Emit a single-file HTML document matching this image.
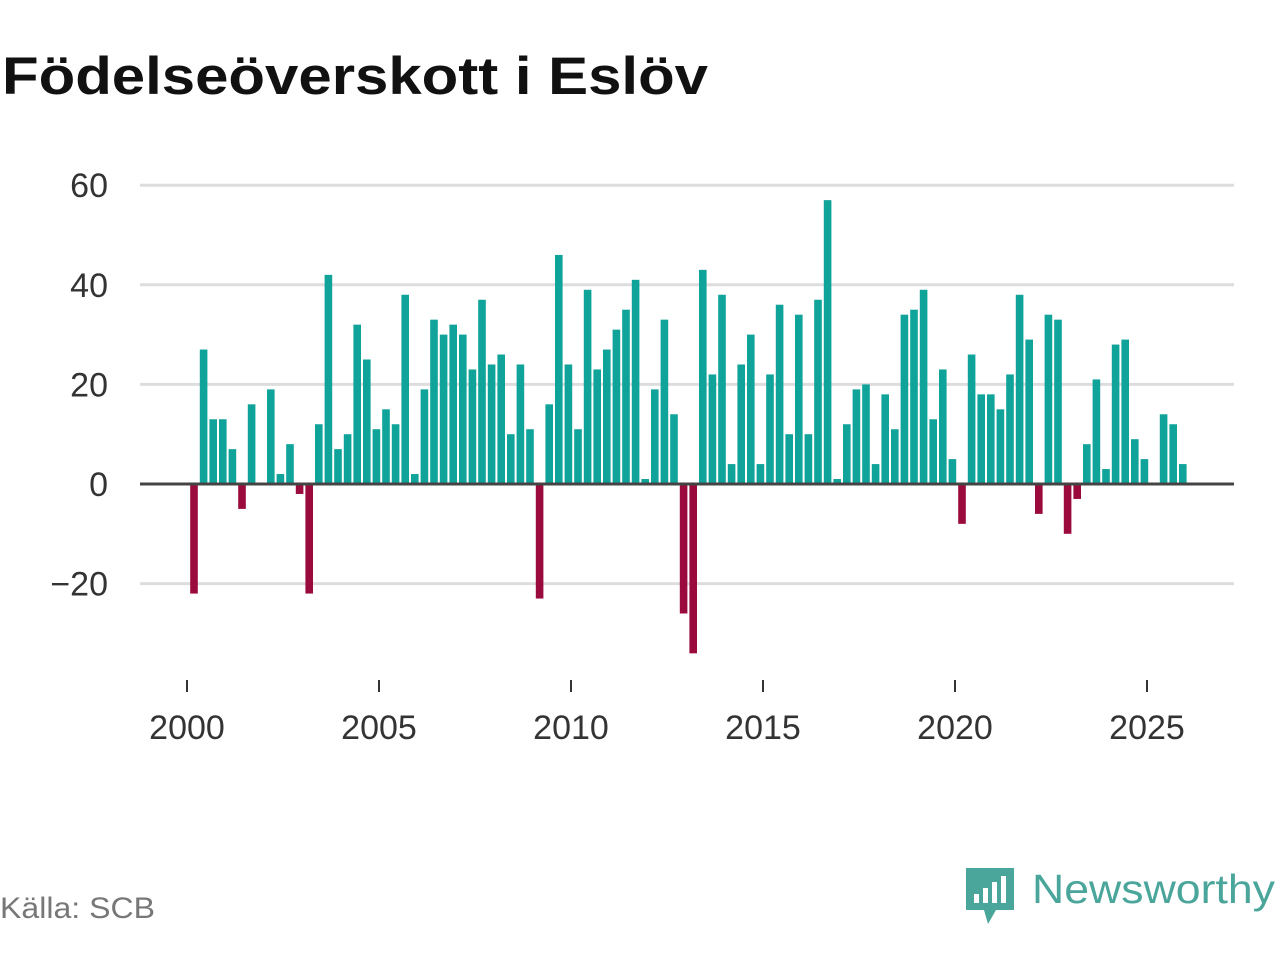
<!DOCTYPE html>
<html><head><meta charset="utf-8"><style>
body{margin:0;width:1280px;height:960px;background:#fff;font-family:"Liberation Sans","DejaVu Sans",sans-serif;overflow:hidden}
svg{position:absolute;left:0;top:0}
</style></head><body>
<svg width="1280" height="960">
<text x="2" y="94" font-size="53" font-weight="bold" fill="#111" textLength="706" lengthAdjust="spacingAndGlyphs">Födelseöverskott i Eslöv</text>
<g id="grid"></g><g id="bars"></g><g id="xaxis"></g>
<text x="0" y="918" font-size="30" fill="#777" textLength="155" lengthAdjust="spacingAndGlyphs">Källa: SCB</text>
<g>
<path d="M966 868 h48 v42 h-18 l-8 14 l-4 -14 h-18 z" fill="#4aa59a"/>
<rect x="974" y="894" width="5" height="9" fill="#fff"/><rect x="983" y="888" width="5" height="15" fill="#fff"/><rect x="992" y="882" width="5" height="21" fill="#fff"/><rect x="1001" y="876" width="5" height="27" fill="#fff"/>
<text x="1032" y="903" font-size="41" fill="#4aa59a" textLength="243" lengthAdjust="spacingAndGlyphs">Newsworthy</text>
</g>
</svg>
<script>
const years=[2000,2001,2002,2003,2004,2005,2006,2007,2008,2009,2010,2011,2012,2013,2014,2015,2016,2017,2018,2019,2020,2021,2022,2023,2024,2025];
const values=[-22,27,13,13, 7,-5,16,0, 19,2,8,-2, -22,12,42,7, 10,32,25,11, 15,12,38,2, 19,33,30,32, 30,23,37,24, 26,10,24,11, -23,16,46,24, 11,39,23,27, 31,35,41,1, 19,33,14,-26, -34,43,22,38, 4,24,30,4, 22,36,10,34, 10,37,57,1, 12,19,20,4, 18,11,34,35, 39,13,23,5, -8,26,18,18, 15,22,38,29, -6,34,33,-10, -3,8,21,3, 28,29,9,5, 0,14,12,4];
const yTicks=[-20,0,20,40,60];
const xTicks=[2000,2005,2010,2015,2020,2025];
const NS="http://www.w3.org/2000/svg";
const x=t=>187+(t-2000)*38.4;
const y=v=>484-v*4.98;
function mk(tag,attrs,parent){const e=document.createElementNS(NS,tag);for(const k in attrs)e.setAttribute(k,attrs[k]);parent.appendChild(e);return e;}
const grid=document.getElementById('grid'),bars=document.getElementById('bars'),xa=document.getElementById('xaxis');
yTicks.forEach(v=>{
 const l=mk('line',{x1:140,x2:1234,y1:y(v),y2:y(v),stroke:v===0?'#444':'#ddd','stroke-width':3},v===0?xa:grid);
 
 
 const t=mk('text',{x:108,y:y(v)+12,'text-anchor':'end','font-size':34,fill:'#333'},grid);
 t.textContent=v<0?'\u2212'+Math.abs(v):String(v);
 
 
});
values.forEach((v,i)=>{
 const yr=years[Math.floor(i/4)],q=i%4;
 const cx=x(yr+q*0.25)+7;
 const r=mk('rect',{x:cx-3.8,y:Math.min(y(v),y(0)),width:7.6,height:Math.abs(y(v)-y(0)),fill:v<0?'#9b0a3c':'#0fa39a'},bars);
 
 
});
xTicks.forEach(t=>{
 const l=mk('line',{x1:x(t),x2:x(t),y1:680,y2:692,stroke:'#333','stroke-width':2},xa);
 
 
 const tx=mk('text',{x:x(t),y:739,'text-anchor':'middle','font-size':34,fill:'#333'},xa);
 tx.textContent=t;
 
 
});
</script>
</body></html>
